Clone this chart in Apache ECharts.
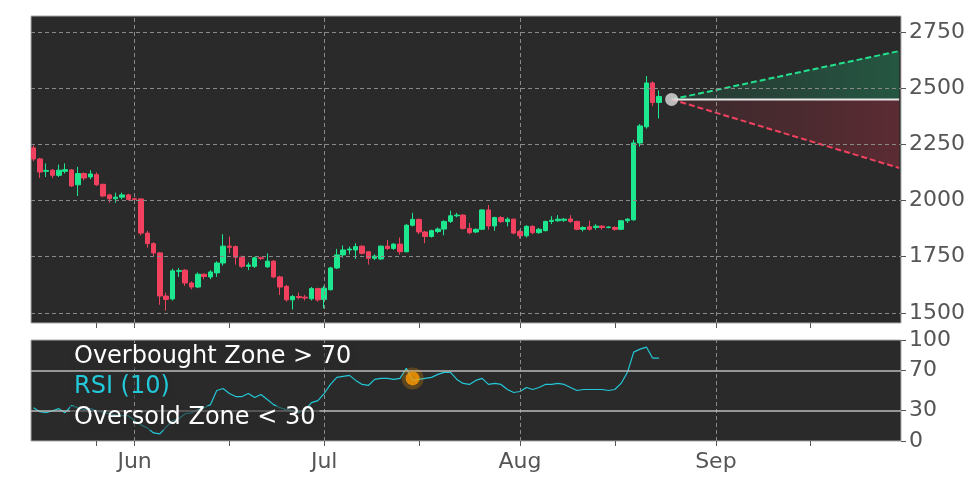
<!DOCTYPE html>
<html lang="en">
<head>
<meta charset="UTF-8">
<title>RSI chart</title>
<script src="https://cdn.jsdelivr.net/npm/echarts@6/dist/echarts.min.js"></script>
<style>
  html, body { margin: 0; padding: 0; background: #fff; }
  #chart { width: 972px; height: 486px; }
</style>
</head>
<body>
<div id="chart"></div>
<script>
// daily candles, starting May 16
var startDay = '2021-05-16';
var opens  = [2234,2185,2130,2135,2112,2130,2136,2070,2120,2105,2115,2072,2025,2008,2015,2025,
  2008,2007,1855,1808,1767,1575,1562,1685,1690,1633,1615,1672,1660,1678,1722,1797,1795,1748,1707,1707,1745,1705,1730,1660,1618,1558,1573,1570,1563,1608,
  1560,1603,1700,1758,1780,1780,1797,1772,1743,1740,1797,1787,1806,1772,1890,1916,1860,1840,1862,1873,1907,1932,1935,1876,1860,1872,1958,1887,1924,1906,1917,
  1862,1843,1885,1857,1866,1907,1910,1912,1918,1907,1872,1883,1880,1886,1880,1880,1872,1910,1914,2256,2328,2523,2436];
var closes = [2185,2127,2134,2112,2135,2137,2065,2120,2100,2118,2070,2020,2008,2015,2025,2005,
  2005,1855,1808,1767,1575,1560,1687,1688,1633,1615,1672,1662,1682,1722,1797,1792,1748,1707,1713,1745,1742,1730,1660,1615,1558,1573,1568,1566,1608,1558,
  1610,1700,1758,1780,1784,1795,1765,1743,1753,1797,1787,1806,1772,1890,1916,1860,1840,1866,1873,1907,1932,1935,1876,1857,1872,1958,1887,1924,1906,1917,1855,
  1843,1885,1857,1872,1907,1912,1917,1917,1907,1872,1880,1872,1886,1880,1882,1872,1910,1917,2256,2332,2523,2436,2463];
var lows   = [2175,2100,2105,2100,2105,2120,2060,2020,2090,2095,2065,2015,1990,1990,2005,2000,
  2000,1845,1790,1750,1536,1510,1555,1660,1620,1605,1610,1650,1650,1660,1710,1765,1715,1700,1690,1700,1735,1700,1655,1580,1550,1515,1560,1555,1555,1550,
  1520,1600,1695,1745,1760,1740,1760,1715,1735,1735,1780,1780,1760,1770,1885,1850,1810,1835,1855,1845,1900,1925,1870,1850,1855,1870,1870,1865,1900,1885,1850,
  1830,1835,1850,1852,1862,1895,1905,1905,1900,1868,1862,1866,1870,1870,1876,1866,1868,1900,1910,2240,2320,2420,2365];
var highs  = [2245,2190,2165,2140,2160,2165,2140,2150,2125,2135,2125,2075,2030,2035,2035,2030,
  2012,2010,1865,1815,1770,1590,1697,1700,1695,1640,1680,1675,1690,1730,1850,1840,1800,1755,1725,1750,1750,1765,1735,1665,1625,1580,1590,1580,1615,1612,
  1620,1705,1785,1800,1795,1810,1800,1775,1760,1800,1825,1810,1835,1895,1945,1920,1865,1870,1880,1912,1955,1945,1940,1900,1875,1962,1980,1928,1930,1925,1920,
  1870,1890,1890,1878,1910,1930,1935,1922,1935,1910,1885,1910,1895,1890,1885,1886,1912,1922,2270,2340,2554,2530,2490];
var rsiValues = [33,29,28,30,32,28,35,33,31,32,30,28,27,26,25,25,20,16,13,8,7,14,20,22,27,28,31,33,36,50,52,47,44,44,47,43,46,41,36,33,31,30,28,31,38,40,47,56,63,64,
  65,60,56,55,61,62,62,61,62,72,60,61,62,63,66,68,68,61,57,56,60,62,56,57,56,51,48,49,53,51,53,56,56,57,56,53,50,51,51,51,51,50,51,57,68,88,91,93,82,82];
var coneDates = ['2021-08-25','2021-09-30'];
var coneMid   = [2450,2450];
var coneUpper = [2450,2665];
var coneLower = [2450,2145];
var signalDate = '2021-07-15', signalRsi = 62;
var priceTicks = [1500,1750,2000,2250,2500,2750];
var rsiTicks = [0,30,70,100];
var monthStarts = ['2021-06-01','2021-07-01','2021-08-01','2021-09-01'];
var monthNames = ['Jun','Jul','Aug','Sep'];

var DAY = 86400000;
var t0 = Date.parse(startDay);
var candleData = [], rsiData = [];
for (var i = 0; i < opens.length; i++) {
    candleData.push([t0 + i * DAY, opens[i], closes[i], lows[i], highs[i]]);
}
for (var j = 0; j < rsiValues.length; j++) rsiData.push([t0 + j * DAY, rsiValues[j]]);
var monthTimes = monthStarts.map(function (d) { return Date.parse(d); });
var tickTimes = [Date.parse('2021-05-26')];
monthTimes.forEach(function (m) { tickTimes.push(m, m + 15 * DAY); });
var xMin = t0 - 0.4 * DAY, xMax = Date.parse('2021-09-30') + 0.3 * DAY;
var coneTimes = coneDates.map(function (d) { return Date.parse(d); });

var labelStyle = { color: '#555', fontSize: 22, fontFamily: 'DejaVu Sans', formatter: function (v) { return String(v); } };
var dash = { color: '#8a8a8a', type: [4, 3], width: 1 };

function xAxisFor(grid, showLabels) {
    return {
        type: 'value', gridIndex: grid, min: xMin, max: xMax,
        splitLine: { show: false },
        axisLine: { show: false },
        axisTick: { show: true, customValues: tickTimes, length: 5, lineStyle: { color: '#555' } },
        axisLabel: {
            show: showLabels, customValues: monthTimes, margin: 10,
            color: '#555', fontSize: 22, fontFamily: 'DejaVu Sans',
            formatter: function (v) { return monthNames[monthTimes.indexOf(v)] || ''; }
        }
    };
}

var chart = echarts.init(document.getElementById('chart'));
chart.setOption({
    animation: false,
    backgroundColor: '#fff',
    grid: [
        { left: 31, right: 71, top: 16, height: 307, show: true, backgroundColor: '#2a2a2a', borderColor: '#aaa', borderWidth: 1 },
        { left: 31, right: 71, top: 340, height: 101, show: true, backgroundColor: '#2a2a2a', borderColor: '#aaa', borderWidth: 1 }
    ],
    xAxis: [xAxisFor(0, false), xAxisFor(1, true)],
    yAxis: [
        { type: 'value', gridIndex: 0, position: 'right', min: 1455, max: 2821,
          splitLine: { show: false }, axisLine: { show: false },
          axisTick: { show: true, customValues: priceTicks, length: 5, lineStyle: { color: '#555' } },
          axisLabel: Object.assign({ customValues: priceTicks, margin: 8 }, labelStyle) },
        { type: 'value', gridIndex: 1, position: 'right', min: 0, max: 100,
          splitLine: { show: false }, axisLine: { show: false },
          axisTick: { show: true, customValues: rsiTicks, length: 5, lineStyle: { color: '#555' } },
          axisLabel: Object.assign({ customValues: rsiTicks, margin: 8 }, labelStyle) }
    ],
    series: [
        { type: 'line', xAxisIndex: 0, yAxisIndex: 0, data: [], silent: true,
          markLine: { symbol: 'none', silent: true, label: { show: false }, lineStyle: dash,
            data: priceTicks.map(function (v) { return { yAxis: v }; })
              .concat(monthTimes.map(function (t) { return { xAxis: t }; })) } },
        { type: 'line', xAxisIndex: 1, yAxisIndex: 1, data: [], silent: true,
          markLine: { symbol: 'none', silent: true, label: { show: false },
            data: monthTimes.map(function (t) { return { xAxis: t, lineStyle: dash }; })
              .concat([{ yAxis: 70, lineStyle: { color: '#bbb', type: 'solid', width: 1.5 } },
                       { yAxis: 30, lineStyle: { color: '#bbb', type: 'solid', width: 1.5 } }]) } },
        { type: 'candlestick', xAxisIndex: 0, yAxisIndex: 0, data: candleData, barWidth: 5,
          itemStyle: { color: '#1de88f', color0: '#f2405f', borderColor: '#1de88f', borderColor0: '#f2405f', borderWidth: 1 } },
        // cone: green band above mid, red band below
        { type: 'line', xAxisIndex: 0, yAxisIndex: 0, symbol: 'none', z: 3,
          data: coneTimes.map(function (t, k) { return [t, coneMid[k]]; }),
          lineStyle: { color: '#e8e8e8', width: 2 } },
        { type: 'line', xAxisIndex: 0, yAxisIndex: 0, symbol: 'none',
          data: coneTimes.map(function (t, k) { return [t, coneUpper[k]]; }),
          lineStyle: { color: '#22e08e', width: 2, type: [6, 3] },
          areaStyle: { origin: coneMid[0], color: new echarts.graphic.LinearGradient(0, 0, 1, 0, [
            { offset: 0, color: 'rgba(30,120,85,0.25)' }, { offset: 1, color: 'rgba(30,140,95,0.65)' }]) } },
        { type: 'line', xAxisIndex: 0, yAxisIndex: 0, symbol: 'none',
          data: coneTimes.map(function (t, k) { return [t, coneLower[k]]; }),
          lineStyle: { color: '#f2405f', width: 2, type: [6, 3] },
          areaStyle: { origin: coneMid[0], color: new echarts.graphic.LinearGradient(0, 0, 1, 0, [
            { offset: 0, color: 'rgba(130,40,55,0.25)' }, { offset: 1, color: 'rgba(150,45,60,0.65)' }]) } },
        { type: 'scatter', xAxisIndex: 0, yAxisIndex: 0, symbolSize: 13, z: 5,
          data: [[coneTimes[0], coneMid[0]]],
          itemStyle: { color: '#e0e0e0' } },
        { type: 'line', xAxisIndex: 1, yAxisIndex: 1, data: rsiData, symbol: 'none',
          lineStyle: { color: '#22c8d8', width: 1.2 } },
        { type: 'scatter', xAxisIndex: 1, yAxisIndex: 1, symbolSize: 14, z: 5,
          data: [[Date.parse(signalDate), signalRsi]],
          itemStyle: { color: '#ff9c00', borderColor: 'rgba(255,156,0,0.3)', borderWidth: 8 } }
    ],
    graphic: [
        { type: 'text', left: 70, top: 345, z: 10, style: { text: 'Overbought Zone > 70', fill: '#fff', fontSize: 24, fontFamily: 'DejaVu Sans',
          backgroundColor: 'rgba(42,42,42,0.6)', padding: [0, 4] } },
        { type: 'text', left: 70, top: 375, z: 10, style: { text: 'RSI (10)', fill: '#22c8d8', fontSize: 24, fontFamily: 'DejaVu Sans',
          backgroundColor: 'rgba(42,42,42,0.6)', padding: [0, 4] } },
        { type: 'text', left: 70, top: 406, z: 10, style: { text: 'Oversold Zone < 30', fill: '#fff', fontSize: 24, fontFamily: 'DejaVu Sans',
          backgroundColor: 'rgba(42,42,42,0.6)', padding: [0, 4] } }
    ]
});
</script>
</body>
</html>
